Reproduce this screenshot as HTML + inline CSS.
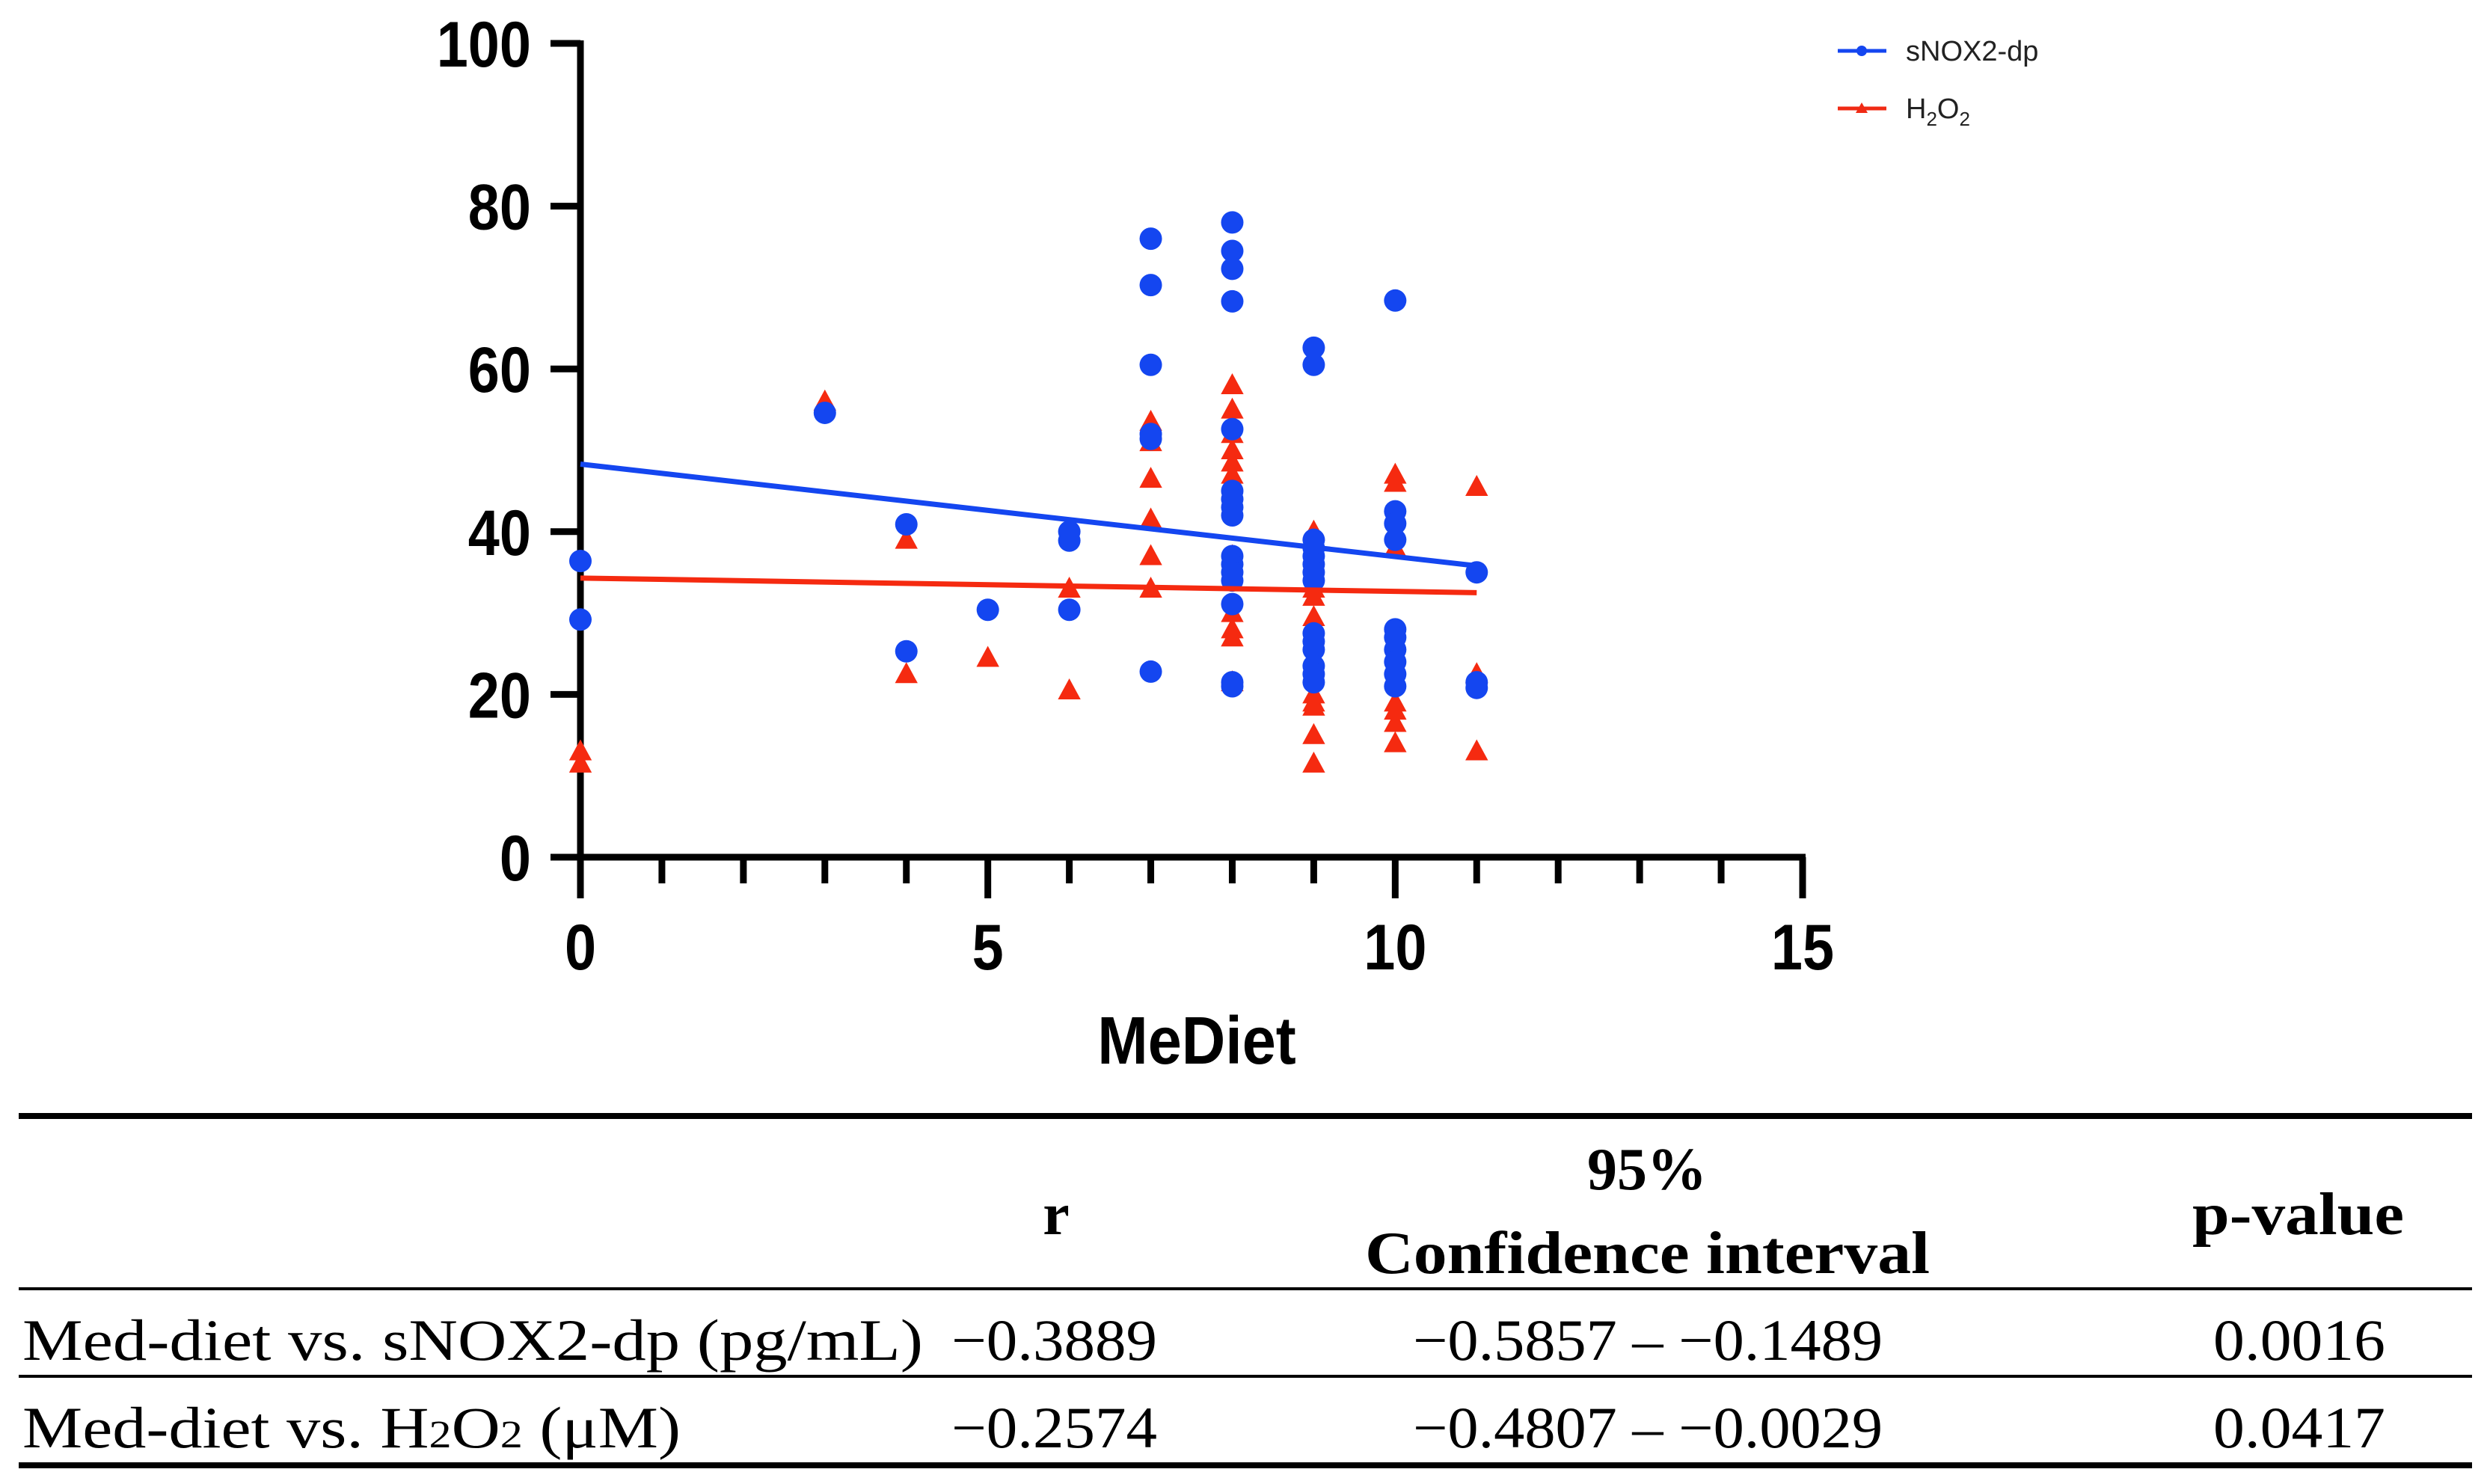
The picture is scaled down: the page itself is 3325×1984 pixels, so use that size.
<!DOCTYPE html>
<html><head><meta charset="utf-8"><style>
html,body{margin:0;padding:0;background:#fff;}
svg{display:block;}
</style></head><body>
<svg id="chart" width="3325" height="1984" viewBox="0 0 3325 1984" xmlns="http://www.w3.org/2000/svg">
<g id="plot"></g>
<g id="legend">
  <g>
    <line x1="2457" y1="68" x2="2522" y2="68" stroke="#1446f0" stroke-width="5"/>
    <circle cx="2489" cy="68" r="7" fill="#1446f0"/>
    <text x="2548" y="81" font-family="Liberation Sans, sans-serif" font-size="38" fill="#222">sNOX2-dp</text>
  </g>
  <g>
    <line x1="2457" y1="145" x2="2522" y2="145" stroke="#f02a14" stroke-width="5"/>
    <polygon points="2489,137 2497,151 2481,151" fill="#f02a14"/>
    <text x="2548" y="158" font-family="Liberation Sans, sans-serif" font-size="38" fill="#222">H<tspan font-size="26" dy="10">2</tspan><tspan dy="-10">O</tspan><tspan font-size="26" dy="10">2</tspan></text>
  </g>
</g>
<g id="table" font-family="Liberation Serif, serif" fill="#000">
  <rect x="25" y="1488" width="3280" height="8" fill="#000"/>
  <rect x="25" y="1721" width="3280" height="4" fill="#000"/>
  <rect x="25" y="1838" width="3280" height="4" fill="#000"/>
  <rect x="25" y="1955" width="3280" height="8" fill="#000"/>
  <g font-weight="bold" font-size="80">
    <text x="1412" y="1650" text-anchor="middle">r</text>
    <text x="2202" y="1590" text-anchor="middle">95%</text>
    <text x="1825" y="1702" textLength="755" lengthAdjust="spacingAndGlyphs">Confidence interval</text>
    <text x="2931" y="1650" textLength="283" lengthAdjust="spacingAndGlyphs">p-value</text>
  </g>
  <g font-size="78">
    <text x="30" y="1818" textLength="1204" lengthAdjust="spacingAndGlyphs">Med-diet vs. sNOX2-dp (pg/mL)</text>
    <text x="1272" y="1818" textLength="275" lengthAdjust="spacingAndGlyphs">−0.3889</text>
    <text x="1889" y="1818" textLength="628" lengthAdjust="spacingAndGlyphs">−0.5857 – −0.1489</text>
    <text x="2959" y="1818" textLength="230" lengthAdjust="spacingAndGlyphs">0.0016</text>
    <text x="30" y="1935" textLength="880" lengthAdjust="spacingAndGlyphs">Med-diet vs. H<tspan font-size="52">2</tspan>O<tspan font-size="52">2</tspan> (μM)</text>
    <text x="1272" y="1935" textLength="275" lengthAdjust="spacingAndGlyphs">−0.2574</text>
    <text x="1889" y="1935" textLength="628" lengthAdjust="spacingAndGlyphs">−0.4807 – −0.0029</text>
    <text x="2959" y="1935" textLength="230" lengthAdjust="spacingAndGlyphs">0.0417</text>
  </g>
</g>
</svg>
<script>
const xTicks = [0, 5, 10, 15];
const yTicks = [0, 20, 40, 60, 80, 100];
const blueX = [0,0,3,4,4,5,6,6,6,7,7,7,7,7,7,8,8,8,8,8,8,8,8,8,8,8,8,8,8,8,8,9,9,9,9,9,9,9,9,9,9,9,9,9,9,10,10,10,10,10,10,10,10,10,10,11,11,11];
const blueY = [36.4,29.2,54.6,40.9,25.3,30.4,40,38.9,30.4,76,70.3,60.5,52,51.4,22.8,78,74.5,72.3,68.3,52.6,45,44,43,42,37,36,35,34,31.1,21.5,21,62.6,60.5,39,38,37,36,35,34,27.5,26.5,25.5,23.5,22.5,21.5,68.4,42.5,41,39,28,27,25.5,24,22.5,21,35,21.5,20.8];
const redX = [0,0,3,4,4,5,6,6,7,7,7,7,7,7,8,8,8,8,8,8,8,8,8,8,8,8,9,9,9,9,9,9,9,9,9,10,10,10,10,10,10,10,11,11,11];
const redY = [13,11.5,56,39,22.5,24.5,33,20.5,53.5,51,46.5,41.5,37,33,58,55,52,50,48.5,47,45,37,30,28,27,21.5,40,33,32,29.5,20,19,18.5,15,11.5,47,46,38,19,18,16.5,14,45.5,22.5,13];
const blueFit = [48.3, 35.8];
const redFit = [34.3, 32.5];
const fitX = [0, 11];

const X0=776, X1=2410, Y0=1146, Y1=58;
const sx = v => X0 + (v-0)/(15-0)*(X1-X0);
const sy = v => Y0 - v/100*(Y0-Y1);
const NS="http://www.w3.org/2000/svg";
const plot=document.getElementById('plot');
function mk(tag, attrs, parent){const e=document.createElementNS(NS,tag);for(const k in attrs)e.setAttribute(k,attrs[k]);(parent||plot).appendChild(e);return e;}

let ax=mk('line',{x1:X0,y1:Y1-4,x2:X0,y2:Y0+4,stroke:'#000','stroke-width':9});


let axx=mk('line',{x1:X0-4,y1:Y0,x2:X1+4,y2:Y0,stroke:'#000','stroke-width':9});


for(let i=0;i<=15;i++){
  const major = xTicks.indexOf(i)>=0;
  const t=mk('line',{x1:sx(i),y1:Y0,x2:sx(i),y2:Y0+(major?55:35),stroke:'#000','stroke-width':9});
  
  
}
xTicks.forEach(v=>{
  const t=mk('text',{x:sx(v)/0.88,y:1296,'text-anchor':'middle','font-family':'Liberation Sans, sans-serif','font-weight':'bold','font-size':86,fill:'#000',transform:'scale(0.88,1)'});
  t.textContent=v;
  
  
});
yTicks.forEach(v=>{
  const t=mk('line',{x1:X0-40,y1:sy(v),x2:X0,y2:sy(v),stroke:'#000','stroke-width':9});
  
  
  const l=mk('text',{x:(X0-66)/0.88,y:sy(v)+31,'text-anchor':'end','font-family':'Liberation Sans, sans-serif','font-weight':'bold','font-size':86,fill:'#000',transform:'scale(0.88,1)'});
  l.textContent=v;
  
  
});
const xt=mk('text',{x:1600/0.9,y:1422,'text-anchor':'middle','font-family':'Liberation Sans, sans-serif','font-weight':'bold','font-size':90,fill:'#000',transform:'scale(0.9,1)'});
xt.textContent='MeDiet';



redX.forEach((x,i)=>{
  const cx=sx(x), cy=sy(redY[i]), r=16;
  const p=mk('polygon',{points:`${cx},${cy-r} ${cx+r*0.95},${cy+r*0.75} ${cx-r*0.95},${cy+r*0.75}`,fill:'#f52a10'});
  
  
});
blueX.forEach((x,i)=>{
  const c=mk('circle',{cx:sx(x),cy:sy(blueY[i]),r:15,fill:'#1446f0'});
  
  
});
const bl=mk('line',{x1:sx(fitX[0]),y1:sy(blueFit[0]),x2:sx(fitX[1]),y2:sy(blueFit[1]),stroke:'#1446f0','stroke-width':7});


const rl=mk('line',{x1:sx(fitX[0]),y1:sy(redFit[0]),x2:sx(fitX[1]),y2:sy(redFit[1]),stroke:'#f52a10','stroke-width':7});


</script>
</body></html>
